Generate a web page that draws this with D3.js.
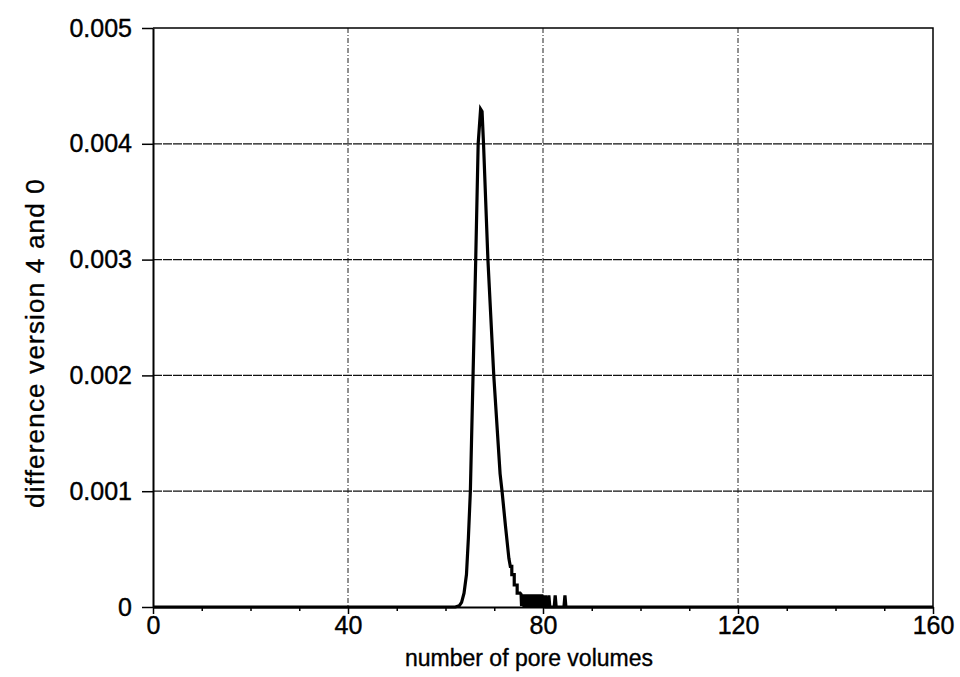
<!DOCTYPE html>
<html>
<head>
<meta charset="utf-8">
<script src="https://cdn.jsdelivr.net/npm/d3@7"></script>
<style>
  body { margin: 0; background: #fff; }
  svg { font-family: "Liberation Sans", Arial, sans-serif; }
</style>
</head>
<body>
<div id="chart"></div>
<script>
// x: number of pore volumes, y: difference between version 4 and 0
const poreVolumes = [
  0, 60, 62.0, 62.8, 63.3, 63.8, 64.3, 64.7, 65.1, 65.65, 66.2, 66.7, 67.2,
  67.5, 67.8, 68.7, 69.9, 71.2, 71.6, 72.3, 73.0, 73.3, 73.6, 73.6, 74.1, 74.1,
  74.7, 74.7, 75.3, 75.5,
  75.6, 75.75, 75.9, 76.0, 76.1, 76.25, 76.4, 76.5, 76.6, 76.75, 76.9, 77.0,
  77.1, 77.25, 77.4, 77.5, 77.6, 77.75, 77.9, 78.0, 78.1, 78.25, 78.4, 78.5,
  78.6, 78.75, 78.9, 79.0, 79.1, 79.25, 79.4, 79.5, 79.6, 79.75, 79.9, 80.0,
  80.1, 80.25, 80.4, 80.5, 80.6, 80.8,
  81.0, 81.2, 81.4, 82.3, 82.5, 82.7, 84.3, 84.5, 84.7, 160
];
const difference = [
  0, 0, 0, 0.00001, 0.00004, 0.00012, 0.00028, 0.0006, 0.001, 0.002, 0.003, 0.004, 0.0043,
  0.00428, 0.004, 0.003, 0.002, 0.00115, 0.001, 0.0007, 0.00042, 0.00035, 0.00035, 0.00028, 0.00028, 0.00019,
  0.00019, 0.00012, 0.00012, 0.00011,
  0.00001, 0.00011, 0.00001, 0.00011, 0, 0.00011, 0.00001, 0.0001, 0, 0.00011, 0.00001, 0.0001,
  0, 0.00011, 0.00001, 0.0001, 0, 0.00011, 0.00001, 0.0001, 0, 0.00011, 0.00001, 0.0001,
  0, 0.00011, 0.00001, 0.0001, 0, 0.00011, 0.00001, 0.0001, 0, 0.00011, 0.00001, 0.0001,
  0, 0.0001, 0.00001, 0.0001, 0, 0,
  0, 0.0001, 0, 0, 0.0001, 0, 0, 0.0001, 0, 0
];

const xTicks = [0, 40, 80, 120, 160];
const xMinorTicks = [10, 20, 30, 50, 60, 70, 90, 100, 110, 130, 140, 150];
const yTicks = [0, 0.001, 0.002, 0.003, 0.004, 0.005];

const margin = {top: 28, right: 27, bottom: 70, left: 153},
    width = 960 - margin.left - margin.right,
    height = 677 - margin.top - margin.bottom;

const svg = d3.select("#chart")
  .append("svg")
    .attr("width", 960)
    .attr("height", 677)
  .append("g")
    .attr("transform", `translate(${margin.left},${margin.top})`);

const x = d3.scaleLinear().domain([0, 160]).range([0, width]);
const y = d3.scaleLinear().domain([0, 0.005]).range([height, 0]);

// grid lines
svg.append("g")
  .selectAll("line")
  .data(xTicks.slice(1, -1))
  .join("line")
    .attr("x1", d => x(d)).attr("x2", d => x(d))
    .attr("y1", 0).attr("y2", height)
    .attr("stroke", "#222")
    .attr("stroke-width", 1)
    .attr("stroke-dasharray", "5,2,1,2");

svg.append("g")
  .selectAll("line")
  .data(yTicks.slice(1, -1))
  .join("line")
    .attr("x1", 0).attr("x2", width)
    .attr("y1", d => y(d)).attr("y2", d => y(d))
    .attr("stroke", "#111")
    .attr("stroke-width", 1.2)
    .attr("stroke-dasharray", "9,1");

// frame
svg.append("path")
  .attr("d", `M0,0H${width}V${height}`)
  .attr("fill", "none")
  .attr("stroke", "#000")
  .attr("stroke-width", 1.5);

// x axis
svg.append("g")
  .attr("transform", `translate(0,${height})`)
  .call(d3.axisBottom(x).tickValues(xTicks).tickSize(7).tickPadding(2).tickSizeOuter(0));
svg.append("g")
  .attr("transform", `translate(0,${height})`)
  .call(d3.axisBottom(x).tickValues(xMinorTicks).tickSize(4).tickFormat("").tickSizeOuter(0))
  .call(g => g.select(".domain").remove());

// y axis
svg.append("g")
  .call(d3.axisLeft(y).tickValues(yTicks).tickSize(11).tickPadding(10).tickSizeOuter(0)
    .tickFormat(d => d === 0 ? "0" : d3.format(".3f")(d)));

svg.selectAll(".domain").attr("stroke-width", 2);
svg.selectAll(".tick line").attr("stroke-width", 1.5);
svg.selectAll(".tick text")
  .attr("font-size", 25)
  .attr("font-family", "Liberation Sans, Arial, sans-serif")
  .attr("fill", "#000")
  .attr("stroke", "#000")
  .attr("stroke-width", 0.4);

// curve
const line = d3.line()
  .x((d, i) => x(poreVolumes[i]))
  .y(d => y(d));

svg.append("path")
  .datum(difference)
  .attr("fill", "none")
  .attr("stroke", "#000")
  .attr("stroke-width", 3.2)
  .attr("stroke-linejoin", "miter")
  .attr("d", line);

// axis titles
svg.append("text")
  .attr("x", width / 2 - 14)
  .attr("y", height + 59)
  .attr("text-anchor", "middle")
  .attr("font-size", 23)
  .attr("stroke", "#000")
  .attr("stroke-width", 0.35)
  .text("number of pore volumes");

svg.append("text")
  .attr("transform", `translate(${-109},${343 - margin.top}) rotate(-90)`)
  .attr("text-anchor", "middle")
  .attr("font-size", 26)
  .attr("letter-spacing", 1.2)
  .attr("stroke", "#000")
  .attr("stroke-width", 0.35)
  .text("difference version 4 and 0");
</script>
</body>
</html>
